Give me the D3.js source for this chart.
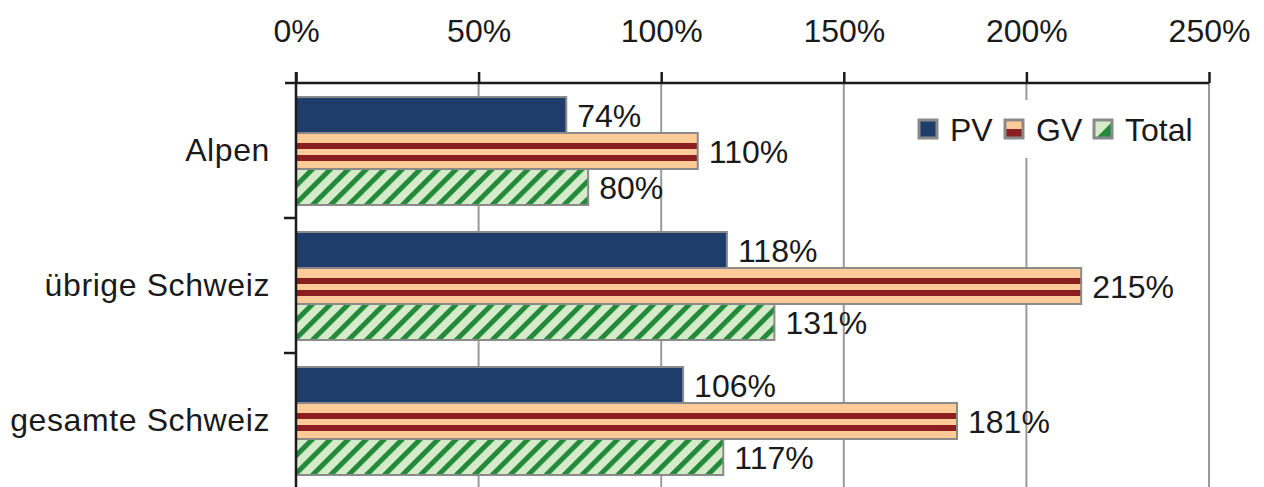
<!DOCTYPE html>
<html>
<head>
<meta charset="utf-8">
<script src="https://cdn.jsdelivr.net/npm/d3@7"></script>
<style>
  body { margin: 0; background: #fff; }
  svg { display: block; font-family: "Liberation Sans", Arial, sans-serif; }
</style>
</head>
<body>
<svg id="chart" width="1264" height="487"></svg>
<script>
// Data
const categories = ["Alpen", "übrige Schweiz", "gesamte Schweiz"];
const series = ["PV", "GV", "Total"];
const pvValues = [74, 118, 106];
const gvValues = [110, 215, 181];
const totalValues = [80, 131, 117];
const tickValues = [0, 50, 100, 150, 200, 250];

const width = 1264, height = 487;
const margin = { left: 296, right: 55, top: 83 };
const fontSize = "32px";
const ink = "#1a1a1a";

const svg = d3.select("#chart");

// Scales
const x = d3.scaleLinear().domain([0, 250]).range([margin.left, 1209]);
const y0 = d3.scaleBand().domain(categories).range([margin.top, margin.top + 405]);
const y1 = d3.scaleBand().domain(series).range([14, 122]);
const barH = y1.bandwidth();

// Patterns (in each category group's local coordinates)
const defs = svg.append("defs");
const gvPat = defs.append("pattern")
    .attr("id", "gvPat").attr("patternUnits", "userSpaceOnUse")
    .attr("x", 0).attr("y", y1("GV"))
    .attr("width", 10).attr("height", barH);
gvPat.append("rect").attr("width", 10).attr("height", barH).attr("fill", "#ffcc99");
gvPat.append("rect").attr("y", 10).attr("width", 10).attr("height", 6).attr("fill", "#8b1f1f");
gvPat.append("rect").attr("y", 22).attr("width", 10).attr("height", 6).attr("fill", "#8b1f1f");

const totPat = defs.append("pattern")
    .attr("id", "totPat").attr("patternUnits", "userSpaceOnUse")
    .attr("width", 12.7).attr("height", 12.7)
    .attr("patternTransform", "rotate(45)");
totPat.append("rect").attr("width", 12.7).attr("height", 12.7).attr("fill", "#d5ebc9");
totPat.append("rect").attr("width", 5).attr("height", 12.7).attr("fill", "#238a3b");

const fills = { PV: "#1f3d6b", GV: "url(#gvPat)", Total: "url(#totPat)" };

const data = categories.map((c, i) => ({
    category: c,
    values: [
        { key: "PV", value: pvValues[i] },
        { key: "GV", value: gvValues[i] },
        { key: "Total", value: totalValues[i] }
    ]
}));

// Gridlines
svg.selectAll(".grid")
    .data(tickValues.slice(1))
    .enter()
    .append("line")
    .attr("class", "grid")
    .attr("x1", d => x(d)).attr("x2", d => x(d))
    .attr("y1", margin.top).attr("y2", height)
    .attr("stroke", "#9a9a9a")
    .attr("stroke-width", 2);

// Top axis
const xAxis = d3.axisTop(x)
    .tickValues(tickValues)
    .tickFormat(d => d + "%")
    .tickSize(11)
    .tickPadding(30);
const gx = svg.append("g")
    .attr("transform", `translate(0,${margin.top})`)
    .call(xAxis);
gx.select(".domain")
    .attr("d", `M${margin.left - 11},0H${x(250)}`)
    .attr("stroke", ink).attr("stroke-width", 2.5);
gx.selectAll(".tick line").attr("stroke", ink).attr("stroke-width", 2.5);
gx.selectAll(".tick text")
    .attr("fill", ink)
    .style("font-size", fontSize);

// Bars
const groups = svg.selectAll(".cat")
    .data(data)
    .enter()
    .append("g")
    .attr("class", "cat")
    .attr("transform", d => `translate(0,${y0(d.category)})`);

groups.selectAll(".bar")
    .data(d => d.values)
    .enter()
    .append("rect")
    .attr("class", "bar")
    .attr("x", x(0))
    .attr("y", d => y1(d.key))
    .attr("width", d => x(d.value) - x(0))
    .attr("height", barH)
    .attr("fill", d => fills[d.key])
    .attr("stroke", "#8a8a8a")
    .attr("stroke-width", 2);

groups.selectAll(".val")
    .data(d => d.values)
    .enter()
    .append("text")
    .attr("class", "val")
    .attr("x", d => x(d.value) + 11)
    .attr("y", d => y1(d.key) + barH / 2)
    .attr("dy", "0.36em")
    .attr("fill", ink)
    .style("font-size", fontSize)
    .text(d => d.value + "%");

// Left axis
const yAxis = d3.axisLeft(y0).tickSize(0).tickPadding(26);
const gy = svg.append("g")
    .attr("transform", `translate(${margin.left},0)`)
    .call(yAxis);
gy.select(".domain").remove();
gy.selectAll(".tick text")
    .attr("fill", ink)
    .style("font-size", fontSize)
    .style("letter-spacing", "0.6px");

svg.append("line")
    .attr("x1", margin.left).attr("x2", margin.left)
    .attr("y1", margin.top - 11).attr("y2", height)
    .attr("stroke", ink).attr("stroke-width", 2.5);

svg.selectAll(".ytick")
    .data(categories.slice(1))
    .enter()
    .append("line")
    .attr("class", "ytick")
    .attr("x1", margin.left - 12).attr("x2", margin.left)
    .attr("y1", d => y0(d)).attr("y2", d => y0(d))
    .attr("stroke", ink).attr("stroke-width", 2.5);

// Legend
const legend = svg.append("g").attr("transform", "translate(905,100)");
legend.append("rect")
    .attr("width", 302).attr("height", 58)
    .attr("fill", "#fff");
const legendX = [14, 100, 189];
const items = legend.selectAll(".leg")
    .data(series)
    .enter()
    .append("g")
    .attr("class", "leg")
    .attr("transform", (d, i) => `translate(${legendX[i]},20)`);
const sw = 18;
items.append("rect")
    .attr("width", sw).attr("height", sw)
    .attr("fill", d => d === "PV" ? fills.PV : d === "GV" ? "#ffcc99" : "#d5ebc9");
items.filter(d => d === "GV").append("rect")
    .attr("y", sw / 2).attr("width", sw).attr("height", sw / 2)
    .attr("fill", "#8b1f1f");
items.filter(d => d === "Total").append("path")
    .attr("d", `M${sw},2L${sw},${sw}L2,${sw}Z`)
    .attr("fill", "#238a3b");
items.append("rect")
    .attr("width", sw).attr("height", sw)
    .attr("fill", "none")
    .attr("stroke", "#8a8a8a").attr("stroke-width", 3);
items.append("text")
    .attr("x", 31).attr("y", sw / 2)
    .attr("dy", "0.36em")
    .attr("fill", ink)
    .style("font-size", fontSize)
    .text(d => d);
</script>
</body>
</html>
